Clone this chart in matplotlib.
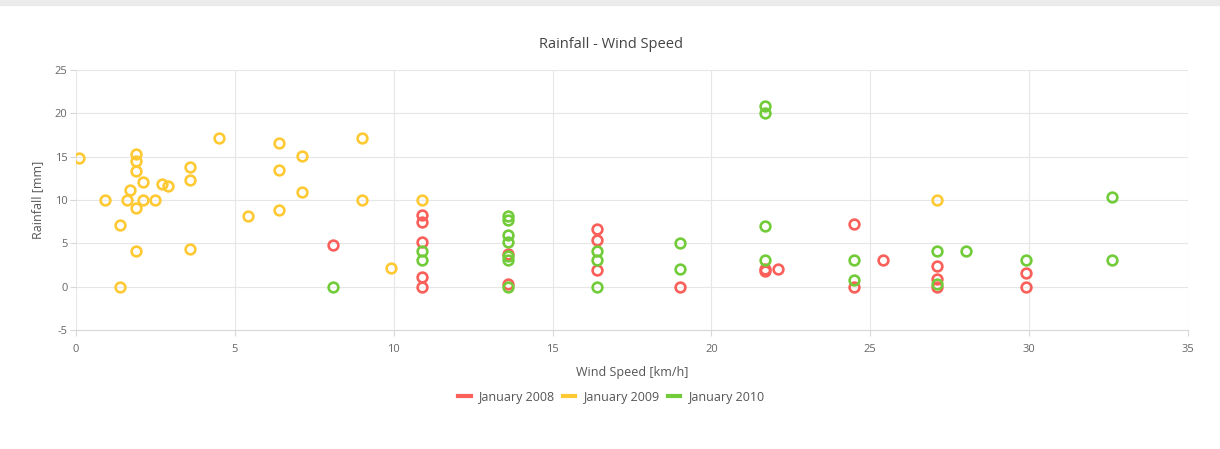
import matplotlib
matplotlib.use('Agg')
import matplotlib.pyplot as plt
from matplotlib.lines import Line2D
from matplotlib.patches import Rectangle

plt.rcParams['font.family'] = ['Open Sans', 'DejaVu Sans']
plt.rcParams['axes.unicode_minus'] = False

# January 2008
x_2008 = [8.1, 10.9, 10.9, 10.9, 10.9, 10.9, 13.6, 13.6, 16.4, 16.4, 16.4, 19.0,
          21.7, 21.7, 22.1, 24.5, 24.5, 25.4, 27.1, 27.1, 27.1, 29.9, 29.9]
y_2008 = [4.8, 8.3, 7.5, 5.2, 1.1, 0.0, 3.8, 0.3, 6.6, 5.4, 1.9, 0.0,
          2.0, 1.8, 2.0, 7.2, 0.0, 3.1, 2.4, 0.9, 0.0, 1.6, 0.0]

# January 2009
x_2009 = [0.1, 0.9, 1.4, 1.4, 1.6, 1.7, 1.9, 1.9, 1.9, 1.9, 1.9, 2.1, 2.1, 2.5, 2.7,
          2.9, 3.6, 3.6, 3.6, 4.5, 5.4, 6.4, 6.4, 6.4, 7.1, 7.1, 9.0, 9.0, 9.9, 10.9, 27.1]
y_2009 = [14.8, 10.0, 7.1, 0.0, 10.0, 11.1, 15.3, 14.5, 13.3, 9.1, 4.1, 12.1, 10.0, 10.0, 11.9,
          11.6, 13.8, 12.3, 4.4, 17.2, 8.1, 16.6, 13.5, 8.8, 15.1, 10.9, 17.1, 10.0, 2.1, 10.0, 10.0]

# January 2010
x_2010 = [8.1, 10.9, 10.9, 13.6, 13.6, 13.6, 13.6, 13.6, 13.6, 13.6, 16.4, 16.4, 16.4,
          19.0, 19.0, 21.7, 21.7, 21.7, 21.7, 24.5, 24.5, 27.1, 27.1, 28.0, 29.9, 32.6, 32.6]
y_2010 = [0.0, 4.1, 3.1, 8.1, 7.7, 6.0, 5.1, 3.5, 3.1, 0.0, 4.1, 3.1, 0.0,
          5.0, 2.0, 20.9, 20.0, 7.0, 3.1, 3.1, 0.8, 4.1, 0.3, 4.1, 3.1, 10.4, 3.1]

series = [
    ("January 2008", x_2008, y_2008, "#fa5f5a"),
    ("January 2009", x_2009, y_2009, "#ffc933"),
    ("January 2010", x_2010, y_2010, "#72cc3a"),
]

fig = plt.figure(figsize=(12.2, 4.49), dpi=100)
# grey strip at the top of the page
fig.patches.append(Rectangle((0, 1 - 5 / 449), 1, 5 / 449, transform=fig.transFigure,
                             color="#ebebeb", zorder=0))

ax = fig.add_axes([76 / 1220, 1 - 330 / 449, (1188 - 76) / 1220, (330 - 70) / 449])

for name, xs, ys, c in series:
    ax.plot(xs, ys, linestyle="none", marker="o", ms=7, mew=1.9,
            mfc="none", mec=c, label=name, zorder=3)

ax.set_xlim(0, 35)
ax.set_ylim(-5, 25)
ax.set_xticks(range(0, 36, 5))
ax.set_yticks(range(-5, 26, 5))
ax.grid(True, color="#e6e6e6", linewidth=0.8)
ax.set_axisbelow(True)
for s in ["top", "right", "left"]:
    ax.spines[s].set_visible(False)
ax.spines["bottom"].set_color("#d8d8d8")
ax.tick_params(colors="#d8d8d8", labelcolor="#666666", labelsize=8, length=4, width=0.8)
ax.tick_params(axis="x", pad=6)
ax.tick_params(axis="y", pad=2)

ax.set_xlabel("Wind Speed [km/h]", fontsize=9, color="#555555", labelpad=8)
ax.set_ylabel("Rainfall [mm]", fontsize=9, color="#555555", labelpad=8)
fig.text(611 / 1220, 1 - 44 / 449, "Rainfall - Wind Speed", ha="center", va="center",
         fontsize=10.5, color="#444444")

handles = [Line2D([0], [0], color=c, lw=3) for _, _, _, c in series]
fig.legend(handles, [s[0] for s in series], loc="center", ncol=3,
           bbox_to_anchor=(611 / 1220, 1 - 397 / 449), frameon=False,
           fontsize=9, labelcolor="#555555", handlelength=1.0, handletextpad=0.6,
           columnspacing=0.7)

plt.savefig("out.png", dpi=100)
plt.close()
